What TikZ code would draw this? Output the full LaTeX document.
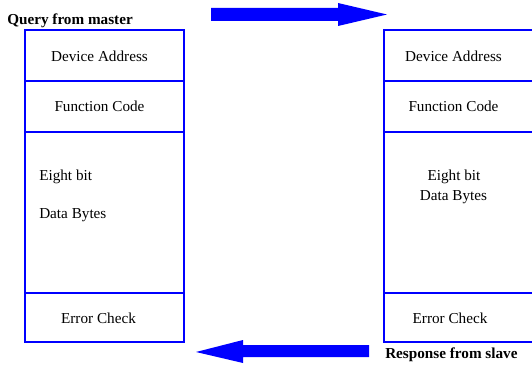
\documentclass[tikz,border=0pt]{standalone}
\usepackage{fontspec}
\setmainfont{Liberation Serif}
\definecolor{frameblue}{RGB}{0,0,255}
\begin{document}
\begin{tikzpicture}[x=0.75pt,y=-0.75pt,
  cell/.style={draw=frameblue,line width=1.6pt,rectangle,inner sep=0pt,minimum width=119.25pt},
  lbl/.style={inner sep=0pt,anchor=base,font=\fontsize{11.4pt}{13pt}\selectfont},
  lblw/.style={lbl,anchor=base west},
  title/.style={inner sep=0pt,anchor=base west,font=\fontsize{11.4pt}{13pt}\selectfont\bfseries},
  blockarrow/.style={fill=frameblue,draw=none}]
\useasboundingbox (0,0) rectangle (532,367);
% left frame (query)
\node[cell,minimum height=38.25pt] (qaddr) at (104.5,55.5) {};
\node[cell,minimum height=38.25pt] (qfunc) at (104.5,106.5) {};
\node[cell,minimum height=120.75pt] (qdata) at (104.5,212.5) {};
\node[cell,minimum height=36.75pt] (qerr) at (104.5,317.5) {};
% right frame (response)
\node[cell,minimum height=38.25pt] (raddr) at (463.5,55.5) {};
\node[cell,minimum height=38.25pt] (rfunc) at (463.5,106.5) {};
\node[cell,minimum height=120.75pt] (rdata) at (463.5,212.5) {};
\node[cell,minimum height=36.75pt] (rerr) at (463.5,317.5) {};
% labels left
\node[lbl] (qaddrt) at (99.5,61.5) {Device Address};
\node[lbl] (qfunct) at (99.5,111.5) {Function Code};
\node[lblw] (qdata1) at (39,181) {Eight bit};
\node[lblw] (qdata2) at (39,219) {Data Bytes};
\node[lbl] (qerrt) at (98.5,323) {Error Check};
% labels right
\node[lbl] (raddrt) at (453.5,61.5) {Device Address};
\node[lbl] (rfunct) at (453.5,111.5) {Function Code};
\node[lbl] (rdata1) at (454,181) {Eight bit};
\node[lbl] (rdata2) at (453.5,200) {Data Bytes};
\node[lbl] (rerrt) at (450,323) {Error Check};
% titles
\node[title] (qtitle) at (7,25) {Query from master};
\node[title] (rtitle) at (385,358) {Response from slave};
% block arrows
\fill[blockarrow] (211,8) -- (338,8) -- (338,3) -- (387,14.5) -- (338,26) -- (338,21) -- (211,21) -- cycle;
\fill[blockarrow] (369,345) -- (243,345) -- (243,340) -- (196,352) -- (243,363) -- (243,357) -- (369,357) -- cycle;
\end{tikzpicture}
\end{document}
